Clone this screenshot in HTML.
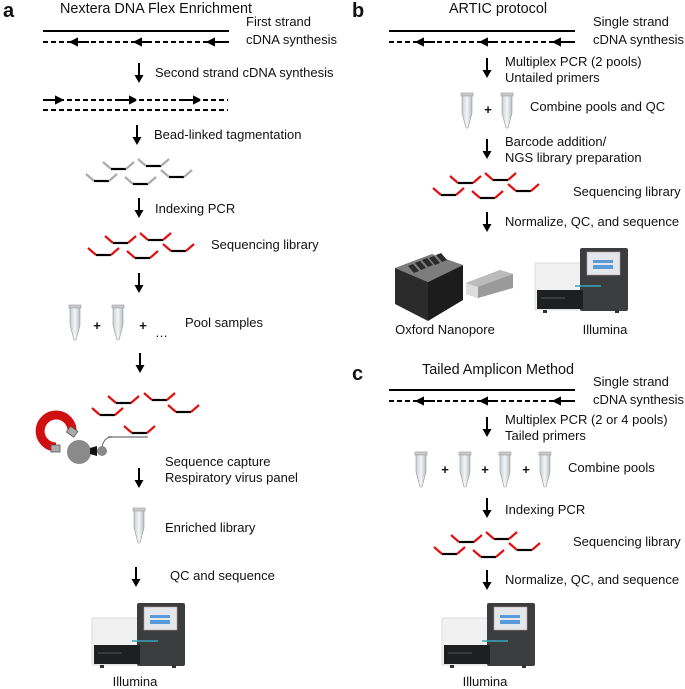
<!DOCTYPE html>
<html><head><meta charset="utf-8"><style>
html,body{margin:0;padding:0;background:#fff}
svg{display:block}
text{font-family:"Liberation Sans",Arial,sans-serif;font-size:13px;fill:#111}
.b{font-weight:bold;font-size:20px}
.t{font-size:14.4px}
</style></head><body>
<svg width="685" height="689" viewBox="0 0 685 689" xmlns="http://www.w3.org/2000/svg">
<defs>
<g id="arr"><line x1="0" y1="0" x2="0" y2="14" stroke="#000" stroke-width="2"/><path d="M-4.5,12 L4.5,12 L0,20z" fill="#000"/></g>
<g id="frag"><path d="M0,0 L8,7" stroke="#e01010" stroke-width="2.2" fill="none"/><path d="M8,7 L23,7" stroke="#000" stroke-width="2.2"/><path d="M23,7 L31,0" stroke="#e01010" stroke-width="2.2" fill="none"/></g>
<g id="gfrag"><path d="M0,0 L8,7" stroke="#aaa" stroke-width="2.2" fill="none"/><path d="M8,7 L23,7" stroke="#000" stroke-width="2.2"/><path d="M23,7 L31,0" stroke="#aaa" stroke-width="2.2" fill="none"/></g>
<g id="lib"><use href="#frag" x="17" y="0"/><use href="#frag" x="52" y="-3"/><use href="#frag" x="0" y="12"/><use href="#frag" x="39" y="15"/><use href="#frag" x="75" y="8"/></g>
<g id="glib"><use href="#gfrag" x="17" y="0"/><use href="#gfrag" x="52" y="-3"/><use href="#gfrag" x="0" y="12"/><use href="#gfrag" x="39" y="15"/><use href="#gfrag" x="75" y="8"/></g>
<linearGradient id="tg" x1="0" x2="1"><stop offset="0" stop-color="#c8cdd0"/><stop offset="0.5" stop-color="#f4f6f7"/><stop offset="1" stop-color="#b8bdc0"/></linearGradient>
<g id="tube"><rect x="-6" y="0" width="12" height="3" fill="#ccc" stroke="#999" stroke-width="0.6"/><path d="M-5,3 L5,3 L5,20 L1,35 L-1,35 L-5,20z" fill="url(#tg)" stroke="#999" stroke-width="0.6"/></g>
<g id="strands"><line x1="0" y1="0" x2="186" y2="0" stroke="#000" stroke-width="2"/>
<line x1="0" y1="11" x2="186" y2="11" stroke="#000" stroke-width="2" stroke-dasharray="5,3"/>
<path d="M28,11 L46,11 M28,11 L34,8 L34,14z" stroke="#000" stroke-width="2" fill="#000"/>
<path d="M92,11 L108,11 M92,11 L98,8 L98,14z" stroke="#000" stroke-width="2" fill="#000"/>
<path d="M165,11 L186,11 M165,11 L171,8 L171,14z" stroke="#000" stroke-width="2" fill="#000"/></g>
<g id="illu">
<rect x="0" y="15" width="52" height="47" fill="#f1f1f1" stroke="#ddd"/>
<rect x="45" y="0" width="48" height="63" rx="2" fill="#3b3d3f"/>
<rect x="52" y="4" width="33" height="23" fill="#e3e6ea" stroke="#b99" stroke-width="0.6"/>
<rect x="58" y="12" width="20" height="3" fill="#5a9ad8"/><rect x="58" y="17" width="20" height="4" fill="#5a9ad8"/>
<line x1="40" y1="38" x2="66" y2="38" stroke="#3aa6b8" stroke-width="1.5"/>
<rect x="2" y="42" width="46" height="19" fill="#1e1f20"/>
<line x1="6" y1="50" x2="30" y2="50" stroke="#555"/>
<rect x="8" y="62" width="4" height="3" fill="#333"/><rect x="80" y="62" width="4" height="3" fill="#333"/>
</g>
</defs>

<!-- Panel a -->
<text x="3" y="17" class="b">a</text>
<text x="156" y="13" class="t" text-anchor="middle">Nextera DNA Flex Enrichment</text>
<use href="#strands" x="43" y="31"/>
<text x="246" y="26">First strand</text><text x="246" y="44">cDNA synthesis</text>
<use href="#arr" x="139" y="63"/>
<text x="155" y="77">Second strand cDNA synthesis</text>
<line x1="43" y1="100" x2="228" y2="100" stroke="#000" stroke-width="2" stroke-dasharray="5,3"/>
<line x1="43" y1="110" x2="228" y2="110" stroke="#000" stroke-width="2" stroke-dasharray="5,3"/>
<path d="M43,100 L62,100 L56,97 L56,103 L62,100" stroke="#000" stroke-width="2" fill="#000"/>
<path d="M117,100 L136,100 L130,97 L130,103 L136,100" stroke="#000" stroke-width="2" fill="#000"/>
<path d="M182,100 L200,100 L194,97 L194,103 L200,100" stroke="#000" stroke-width="2" fill="#000"/>
<use href="#arr" x="137" y="125"/>
<text x="154" y="139">Bead-linked tagmentation</text>
<use href="#glib" x="86" y="162"/>
<use href="#arr" x="139" y="198"/>
<text x="155" y="213">Indexing PCR</text>
<use href="#lib" x="88" y="236"/>
<text x="211" y="249">Sequencing library</text>
<use href="#arr" x="139" y="273"/>
<use href="#tube" x="75" y="305"/><use href="#tube" x="118" y="305"/>
<text x="97" y="330" font-weight="bold" text-anchor="middle">+</text>
<text x="143" y="330" font-weight="bold" text-anchor="middle">+</text>
<text x="185" y="327">Pool samples</text>
<text x="155" y="337">…</text>
<use href="#arr" x="140" y="353"/>
<use href="#frag" x="108" y="396"/><use href="#frag" x="144" y="393"/><use href="#frag" x="92" y="408"/><use href="#frag" x="168" y="405"/><use href="#frag" x="124" y="426"/>
<line x1="108" y1="437" x2="148" y2="437" stroke="#888" stroke-width="1.5"/>
<path d="M102,447 Q104,437 112,437" stroke="#666" stroke-width="1" fill="none"/>
<path d="M56,447 A16,16 0 1 1 72,433" stroke="#d01010" stroke-width="9" fill="none"/>
<rect x="51" y="445" width="9" height="7" fill="#aaa" stroke="#555" stroke-width="0.8"/>
<rect x="68" y="428" width="9" height="7" fill="#aaa" stroke="#555" stroke-width="0.8" transform="rotate(35 72 431)"/>
<circle cx="79" cy="452" r="12" fill="#8a8a8a"/>
<path d="M90,448 L97,446 L97,456 L90,454z" fill="#111"/>
<circle cx="102" cy="451" r="5" fill="#8a8a8a"/>
<text x="165" y="466">Sequence capture</text><text x="165" y="482">Respiratory virus panel</text>
<use href="#arr" x="139" y="468"/>
<use href="#tube" x="139" y="508"/>
<text x="165" y="532">Enriched library</text>
<use href="#arr" x="136" y="567"/>
<text x="170" y="580">QC and sequence</text>
<use href="#illu" x="92" y="603"/>
<text x="135" y="686" text-anchor="middle">Illumina</text>

<!-- Panel b -->
<text x="352" y="17" class="b">b</text>
<text x="498" y="13" class="t" text-anchor="middle">ARTIC protocol</text>
<use href="#strands" x="389" y="31"/>
<text x="593" y="26">Single strand</text><text x="593" y="44">cDNA synthesis</text>
<use href="#arr" x="487" y="58"/>
<text x="505" y="66">Multiplex PCR (2 pools)</text><text x="505" y="82">Untailed primers</text>
<use href="#tube" x="467" y="93"/><use href="#tube" x="507" y="93"/>
<text x="488" y="114" font-weight="bold" text-anchor="middle">+</text>
<text x="530" y="111">Combine pools and QC</text>
<use href="#arr" x="487" y="139"/>
<text x="505" y="146">Barcode addition/</text><text x="505" y="162">NGS library preparation</text>
<use href="#lib" x="433" y="176"/>
<text x="573" y="196">Sequencing library</text>
<use href="#arr" x="487" y="212"/>
<text x="505" y="226">Normalize, QC, and sequence</text>
<!-- nanopore -->
<path d="M395,268 L432,254 L463,265 L428,282z" fill="#7d7d7d"/>
<path d="M395,268 L428,282 L428,321 L395,304z" fill="#2b2b2b"/>
<path d="M428,282 L463,265 L463,300 L428,321z" fill="#1c1c1c"/>
<g fill="#2a2a2a"><path d="M408,266 L413,264 L419,271 L414,273z"/><path d="M415,263 L420,261 L426,268 L421,270z"/><path d="M422,260 L427,258 L433,265 L428,267z"/><path d="M429,258 L434,256 L440,263 L435,265z"/><path d="M436,255 L441,253 L447,260 L442,262z"/></g>
<path d="M466,283 L500,270 L513,274 L513,288 L478,298 L466,294z" fill="#9a9a9a"/>
<path d="M466,283 L500,270 L513,274 L478,287z" fill="#bbb"/>
<path d="M466,283 L478,287 L478,298 L466,294z" fill="#ddd"/>
<text x="445" y="334" text-anchor="middle">Oxford Nanopore</text>
<use href="#illu" x="535" y="248"/>
<text x="605" y="334" text-anchor="middle">Illumina</text>

<!-- Panel c -->
<text x="352" y="380" class="b">c</text>
<text x="498" y="374" class="t" text-anchor="middle">Tailed Amplicon Method</text>
<use href="#strands" x="389" y="390"/>
<text x="593" y="386">Single strand</text><text x="593" y="404">cDNA synthesis</text>
<use href="#arr" x="487" y="417"/>
<text x="505" y="424">Multiplex PCR (2 or 4 pools)</text><text x="505" y="440">Tailed primers</text>
<use href="#tube" x="421" y="452"/><use href="#tube" x="465" y="452"/><use href="#tube" x="505" y="452"/><use href="#tube" x="545" y="452"/>
<text x="445" y="474" font-weight="bold" text-anchor="middle">+</text>
<text x="485" y="474" font-weight="bold" text-anchor="middle">+</text>
<text x="526" y="474" font-weight="bold" text-anchor="middle">+</text>
<text x="568" y="472">Combine pools</text>
<use href="#arr" x="487" y="498"/>
<text x="505" y="514">Indexing PCR</text>
<use href="#lib" x="434" y="535"/>
<text x="573" y="546">Sequencing library</text>
<use href="#arr" x="487" y="570"/>
<text x="505" y="584">Normalize, QC, and sequence</text>
<use href="#illu" x="442" y="603"/>
<text x="485" y="686" text-anchor="middle">Illumina</text>
</svg>
</body></html>
